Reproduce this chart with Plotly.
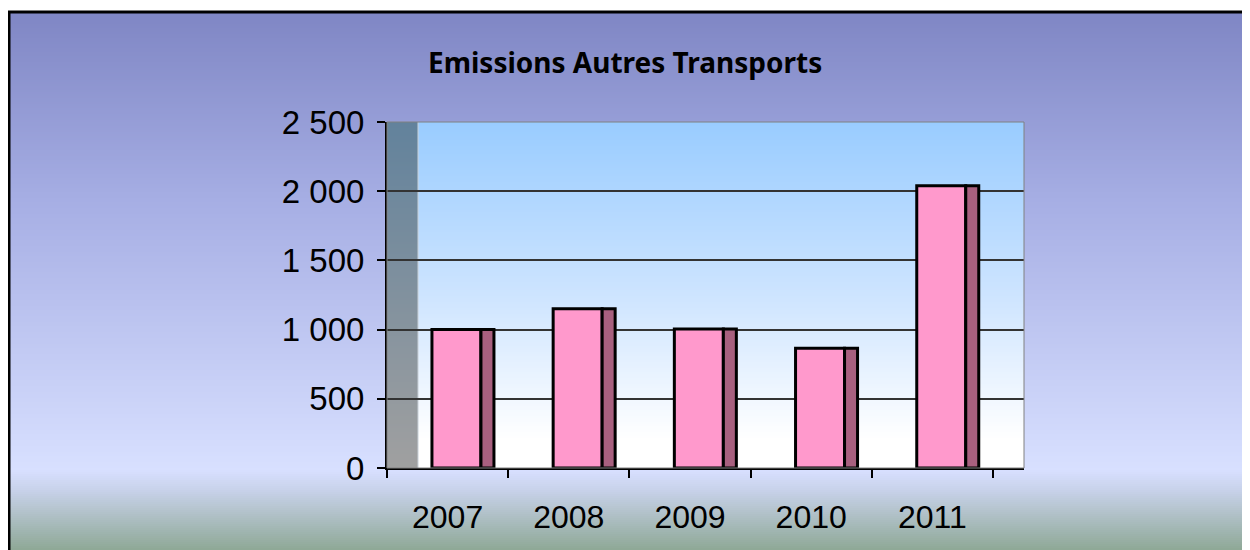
import plotly.graph_objects as go

# ---- data ----
years = ["2007", "2008", "2009", "2010", "2011"]
values = [1000, 1150, 1005, 865, 2040]
y_ticks = [0, 500, 1000, 1500, 2000, 2500]
y_tick_labels = ["0", "500", "1 000", "1 500", "2 000", "2 500"]
title_text = "Emissions Autres Transports"

W, H = 1250, 550
OFF = 8  # page body margin
# plot area in pixels (page coordinates)
PX0, PX1, PY0, PY1 = 387, 1024, 122, 468
CAT_PX = (993 - 387) / 5.0
DEPTH = (PX1 - 993) / CAT_PX


def px(x):
    return (x - OFF) / W


def py(y):
    return 1 - (y - OFF) / H


def hex2rgb(h):
    h = h.lstrip("#")
    return tuple(int(h[i:i + 2], 16) for i in (0, 2, 4))


def grad(stops, t):
    for i in range(len(stops) - 1):
        p0, c0 = stops[i]
        p1, c1 = stops[i + 1]
        if p0 <= t <= p1:
            f = (t - p0) / (p1 - p0) if p1 > p0 else 0
            a, b = hex2rgb(c0), hex2rgb(c1)
            return "rgb(%d,%d,%d)" % tuple(round(a[k] + (b[k] - a[k]) * f) for k in range(3))
    return stops[-1][1]


shapes = []


def vstripes(x0, x1, y0, y1, stops, step=2):
    y = y0
    while y < y1:
        yn = min(y + step, y1)
        t = (y + yn) / 2.0
        shapes.append(dict(type="rect", xref="paper", yref="paper", layer="below",
                           x0=px(x0), x1=px(x1), y0=py(y), y1=py(yn + 0.5),
                           line=dict(width=0), fillcolor=grad(stops, t)))
        y = yn


# outer background gradient
vstripes(9, W + OFF, 12, H + OFF, [(12, "#7f86c4"), (200, "#a6aee4"), (470, "#d8e0ff"),
                                     (490, "#c8d2ea"), (550, "#8ea896"), (560, "#8ea896")], step=2)
# plot area gradient
vstripes(PX0, PX1, PY0, PY1, [(PY0, "#99ccff"), (300, "#cfe5ff"), (440, "#ffffff"), (PY1, "#ffffff")], step=2)
# left wall
vstripes(PX0, PX0 + 31, PY0, PY1, [(PY0, "#62829c"), (PY1, "#a0a0a0")], step=2)
# wall edge highlight
shapes.append(dict(type="line", xref="paper", yref="paper", layer="below",
                   x0=px(PX0 + 31), x1=px(PX0 + 31), y0=py(PY0), y1=py(PY1),
                   line=dict(color="#c8d0d8", width=1)))
# plot area border
shapes.append(dict(type="rect", xref="paper", yref="paper", layer="above",
                   x0=px(PX0), x1=px(PX1), y0=py(PY1), y1=py(PY0),
                   line=dict(color="#808080", width=1), fillcolor="rgba(0,0,0,0)"))
# outer frame (left & top)
shapes.append(dict(type="line", xref="paper", yref="paper", layer="above",
                   x0=px(9), x1=px(9), y0=py(11), y1=0, line=dict(color="black", width=3)))
shapes.append(dict(type="line", xref="paper", yref="paper", layer="above",
                   x0=px(8), x1=1, y0=py(12), y1=py(12), line=dict(color="black", width=3)))

xpos = list(range(len(years)))
front_off = -15.65 / CAT_PX
front_w = 49 / CAT_PX
side_w = 13 / CAT_PX

fig = go.Figure()
fig.add_trace(go.Bar(x=xpos, y=values, width=[front_w] * 5, offset=front_off,
                     marker=dict(color="#ff99cc", line=dict(color="black", width=3)),
                     showlegend=False, hoverinfo="skip"))
fig.add_trace(go.Bar(x=xpos, y=values, width=[side_w] * 5, offset=front_off + front_w,
                     marker=dict(color="#a8607f", line=dict(color="black", width=3)),
                     showlegend=False, hoverinfo="skip"))

fig.update_layout(
    width=W, height=H,
    margin=dict(l=0, r=0, t=0, b=0),
    paper_bgcolor="white",
    plot_bgcolor="rgba(0,0,0,0)",
    barmode="overlay",
    shapes=shapes,
    xaxis=dict(domain=[px(PX0), px(PX1)], range=[-0.5, 4.5 + DEPTH],
               tickvals=xpos, ticktext=years, ticks="", showgrid=False,
               showline=True, linecolor="black", linewidth=2, zeroline=False,
               tickfont=dict(family="Liberation Sans, Arial", size=32, color="black"),
               ticklabelstandoff=20, automargin=False,
               minor=dict(tickvals=[i - 0.5 for i in range(6)], ticks="outside",
                          ticklen=8, tickwidth=2, tickcolor="black", showgrid=False)),
    yaxis=dict(domain=[py(PY1), py(PY0)], range=[0, 2500],
               tickvals=y_ticks, ticktext=y_tick_labels,
               ticks="outside", ticklen=8, tickwidth=2, tickcolor="black",
               showgrid=True, gridcolor="#333333", gridwidth=1.5,
               showline=True, linecolor="black", linewidth=2, zeroline=False,
               tickfont=dict(family="Liberation Sans, Arial", size=33, color="black"),
               ticklabelstandoff=6, automargin=False),
    annotations=[dict(text="<b>" + title_text + "</b>", xref="paper", yref="paper",
                      x=px(625), y=py(62), xanchor="center", yanchor="middle",
                      showarrow=False,
                      font=dict(family="Comic Sans MS, Noto Sans", size=28, color="black"))],
)

fig.write_html("out.html")
